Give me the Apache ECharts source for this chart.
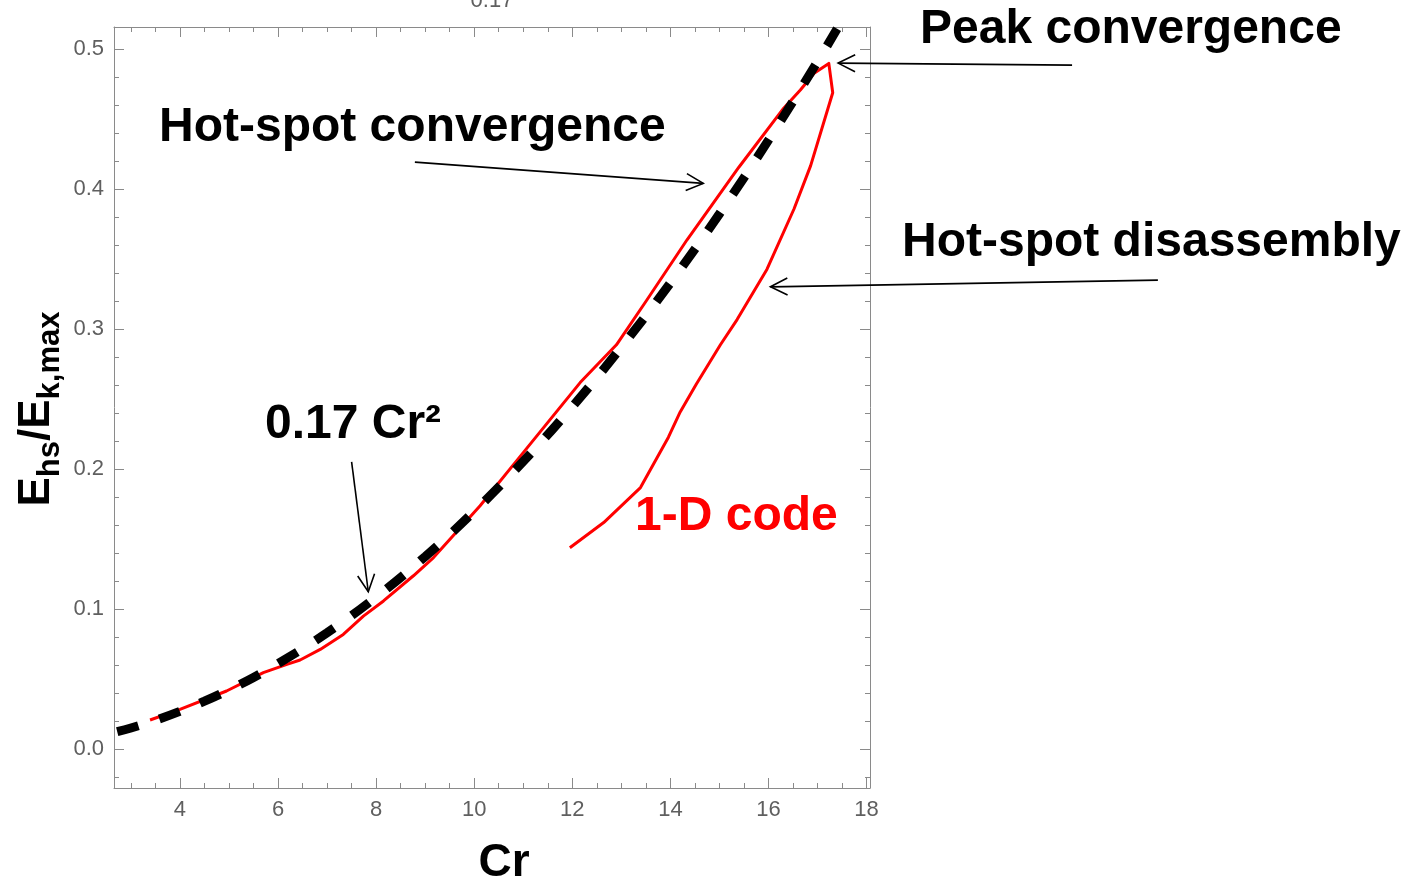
<!DOCTYPE html>
<html>
<head>
<meta charset="utf-8">
<script src="https://cdn.jsdelivr.net/npm/echarts@6/dist/echarts.min.js"></script>
<style>
html,body{margin:0;padding:0;background:#fff;}
#chart{width:1416px;height:882px;}
</style>
</head>
<body>
<div id="chart"></div>
<script>
// ---- data ----
const codeCr = [3.39, 4.0, 4.95, 5.70, 6.18, 6.45, 6.86, 7.33, 7.74, 8.15, 8.76, 9.17, 10.12, 11.0, 12.16, 12.9, 13.52, 14.34, 15.4, 16.31, 16.65, 16.93, 17.23, 17.31, 16.86, 16.52, 15.97, 15.36, 15.02, 14.53, 14.2, 13.96, 13.39, 12.64, 11.95];
const codeE  = [0.021, 0.0286, 0.0417, 0.0548, 0.0607, 0.0638, 0.0714, 0.0821, 0.0952, 0.106, 0.124, 0.137, 0.174, 0.212, 0.262, 0.289, 0.321, 0.364, 0.416, 0.458, 0.471, 0.483, 0.490, 0.469, 0.417, 0.386, 0.343, 0.307, 0.289, 0.261, 0.241, 0.223, 0.187, 0.162, 0.144];
const fitCr = [2.72, 3, 3.5, 4, 4.5, 5, 5.5, 6, 7, 8, 9, 10, 11, 12, 13, 14, 15, 16, 17, 17.4];
const fitE  = [0.0126, 0.0153, 0.0208, 0.0272, 0.0344, 0.0425, 0.0514, 0.0612, 0.0833, 0.1088, 0.1377, 0.170, 0.2057, 0.2448, 0.2873, 0.3332, 0.3825, 0.4352, 0.4913, 0.5147];

const xMajorTicks = [4, 6, 8, 10, 12, 14, 16, 18];
const xMinorTicks = [3, 3.5, 4, 4.5, 5, 5.5, 6, 6.5, 7, 7.5, 8, 8.5, 9, 9.5, 10, 10.5, 11, 11.5, 12, 12.5, 13, 13.5, 14, 14.5, 15, 15.5, 16, 16.5, 17, 17.5, 18];
const yMajorTicks = [0.0, 0.1, 0.2, 0.3, 0.4, 0.5];
const yMinorTicks = [-0.02, 0.0, 0.02, 0.04, 0.06, 0.08, 0.1, 0.12, 0.14, 0.16, 0.18, 0.2, 0.22, 0.24, 0.26, 0.28, 0.3, 0.32, 0.34, 0.36, 0.38, 0.4, 0.42, 0.44, 0.46, 0.48, 0.5];

const xRange = [2.655, 18.07];
const yRange = [-0.0276, 0.516];

// annotations in data coordinates: [fromCr, fromE, toCr, toE]
const arrows = [
  [22.19, 0.4888, 17.42, 0.4902],   // Peak convergence
  [8.79, 0.4195, 14.67, 0.4043],    // Hot-spot convergence
  [23.94, 0.3352, 16.04, 0.3304],   // Hot-spot disassembly
  [7.50, 0.2054, 7.84, 0.1126]      // 0.17 Cr^2
];

const tickFont = "'Liberation Sans Narrow','Liberation Sans',Arial,sans-serif";
const boldFont = "'Liberation Sans',Arial,sans-serif";
const frameColor = '#8a8a8a';
const tickLabelColor = '#5f5f5f';

function xAxisDef(pos, ticks, len, showLine, showLabel) {
  return {
    type: 'value', position: pos, min: xRange[0], max: xRange[1],
    axisLine: {show: showLine, onZero: false, lineStyle: {color: frameColor, width: 1}},
    axisTick: {show: true, inside: true, length: len, customValues: ticks, lineStyle: {color: frameColor, width: 1}},
    axisLabel: {show: showLabel, customValues: ticks, color: tickLabelColor, fontSize: 22, fontFamily: tickFont, margin: 11},
    splitLine: {show: false}
  };
}
function yAxisDef(pos, ticks, len, showLine, showLabel) {
  return {
    type: 'value', position: pos, min: yRange[0], max: yRange[1],
    axisLine: {show: showLine, onZero: false, lineStyle: {color: frameColor, width: 1}},
    axisTick: {show: true, inside: true, length: len, customValues: ticks, lineStyle: {color: frameColor, width: 1}},
    axisLabel: {show: showLabel, customValues: ticks, color: tickLabelColor, fontSize: 22, fontFamily: tickFont, margin: 10,
      formatter: v => v.toFixed(1)},
    splitLine: {show: false}
  };
}

const chart = echarts.init(document.getElementById('chart'), null, {renderer: 'canvas'});
chart.setOption({
  animation: false,
  backgroundColor: '#ffffff',
  grid: {left: 114, right: 546, top: 27, bottom: 94, containLabel: false},
  xAxis: [
    xAxisDef('bottom', xMajorTicks, 10, true, true),
    xAxisDef('bottom', xMinorTicks, 5, false, false),
    xAxisDef('top', xMajorTicks, 10, true, false),
    xAxisDef('top', xMinorTicks, 5, false, false)
  ],
  yAxis: [
    yAxisDef('left', yMajorTicks, 10, true, true),
    yAxisDef('left', yMinorTicks, 5, false, false),
    yAxisDef('right', yMajorTicks, 10, true, false),
    yAxisDef('right', yMinorTicks, 5, false, false)
  ],
  series: [
    {
      name: '1-D code', type: 'line', xAxisIndex: 0, yAxisIndex: 0,
      data: codeCr.map((c, i) => [c, codeE[i]]),
      showSymbol: false, smooth: false, clip: false,
      lineStyle: {color: '#ff0000', width: 3, join: 'round'},
      z: 2
    },
    {
      name: '0.17 Cr2', type: 'line', xAxisIndex: 0, yAxisIndex: 0,
      data: fitCr.map((c, i) => [c, fitE[i]]),
      showSymbol: false, smooth: 0.4, clip: false,
      lineStyle: {color: '#000000', width: 9, type: [22, 21.9], cap: 'butt'},
      z: 3
    }
  ]
});

function px(c, e) { return chart.convertToPixel({xAxisIndex: 0, yAxisIndex: 0}, [c, e]); }

const graphics = [];
// plot label at top (clipped)
graphics.push({type: 'text', x: 492, y: 12, style: {text: '0.17', fill: tickLabelColor, font: '22px ' + tickFont, textAlign: 'center', textVerticalAlign: 'bottom'}});

// arrows
arrows.forEach(a => {
  const p0 = px(a[0], a[1]);
  const p1 = px(a[2], a[3]);
  const dx = p1[0] - p0[0], dy = p1[1] - p0[1];
  const L = Math.sqrt(dx * dx + dy * dy);
  const ux = dx / L, uy = dy / L;
  const hl = 17, hw = 8.5;
  const bx = p1[0] - ux * hl, by = p1[1] - uy * hl;
  const w1 = [bx - uy * hw, by + ux * hw];
  const w2 = [bx + uy * hw, by - ux * hw];
  graphics.push({type: 'line', shape: {x1: p0[0], y1: p0[1], x2: p1[0], y2: p1[1]}, style: {stroke: '#000', lineWidth: 1.6}, z: 10});
  graphics.push({type: 'polyline', shape: {points: [w1, p1, w2]}, style: {stroke: '#000', lineWidth: 1.6, fill: null}, z: 10});
});

// annotation texts (baseline positions)
const FS = 48;
function annText(txt, left, baseline, color) {
  graphics.push({type: 'text', x: left - 2, y: baseline + 2 - 0.35 * FS,
    style: {text: txt, fill: color, font: 'bold ' + FS + 'px ' + boldFont, textAlign: 'left', textVerticalAlign: 'middle'}, z: 11});
}
annText('Peak convergence', 922, 45, '#000');
annText('Hot-spot convergence', 161, 143, '#000');
annText('Hot-spot disassembly', 904, 258, '#000');
annText('0.17 Cr\u00B2', 267, 440, '#000');
annText('1-D code', 637, 532, '#ff0000');

// x axis title
graphics.push({type: 'text', x: 504, y: 879 - 0.35 * 46,
  style: {text: 'Cr', fill: '#000', font: 'bold 46px ' + boldFont, textAlign: 'center', textVerticalAlign: 'middle'}, z: 11});

// y axis title (rotated, with subscripts) built from separate text pieces
(function () {
  const F = 44, S = 31, subDrop = 9;
  const parts = [['E', F, 0], ['hs', S, subDrop], ['/E', F, 0], ['k,max', S, subDrop]];
  const ctx = document.createElement('canvas').getContext('2d');
  const widths = parts.map(p => { ctx.font = 'bold ' + p[1] + 'px ' + boldFont; return ctx.measureText(p[0]).width; });
  const total = widths.reduce((a, b) => a + b, 0);
  let cx = -total / 2;
  const children = parts.map((p, i) => {
    const el = {type: 'text', x: cx, y: p[2] - 0.35 * p[1],
      style: {text: p[0], fill: '#000', font: 'bold ' + p[1] + 'px ' + boldFont, textAlign: 'left', textVerticalAlign: 'middle'}};
    cx += widths[i];
    return el;
  });
  graphics.push({type: 'group', x: 52, y: 409, rotation: Math.PI / 2, children: children, z: 11});
})();

chart.setOption({graphic: graphics});
</script>
</body>
</html>
